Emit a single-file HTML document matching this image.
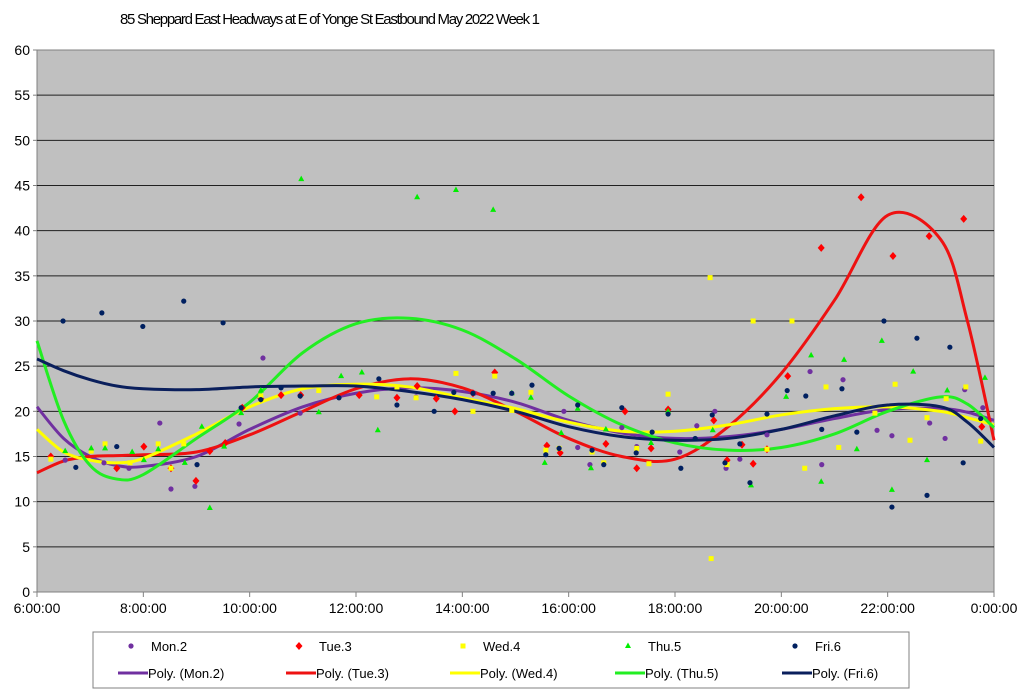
<!DOCTYPE html>
<html><head><meta charset="utf-8"><style>
body{margin:0;background:#fff;font-family:"Liberation Sans",sans-serif}
svg{display:block}
</style></head><body>
<svg id="chart" width="1024" height="695" xmlns="http://www.w3.org/2000/svg">
<rect width="1024" height="695" fill="#fff"/>
<text x="120" y="24" font-size="15" textLength="420" font-family="Liberation Sans, sans-serif">85 Sheppard East Headways at E of Yonge St Eastbound May 2022  Week 1</text>
<rect x="37" y="50" width="957" height="542" fill="#c0c0c0" stroke="#808080"/>
<g id="grid"></g><g id="axes"></g><g id="trends"></g><g id="points"></g>
<g id="legend"></g>
</svg>
<script>
const yTicks=[0,5,10,15,20,25,30,35,40,45,50,55,60];
const xTickLabels=["6:00:00","8:00:00","10:00:00","12:00:00","14:00:00","16:00:00","18:00:00","20:00:00","22:00:00","0:00:00"];
const xTickHours=[6,8,10,12,14,16,18,20,22,24];
const seriesNames=["Mon.2","Tue.3","Wed.4","Thu.5","Fri.6"];
const colors=["#7030a0","#ff0000","#ffff00","#00ee00","#002060"];
const trendColors=["#7030a0","#ee1111","#ffff00","#22ee22","#0a1f5c"];
const monT=[6.53,7.26,7.73,8.31,8.52,8.97,9.80,10.25,10.95,13.13,14.22,15.91,16.17,16.40,17.00,17.28,18.09,18.41,18.75,18.96,19.22,19.73,20.54,20.76,21.16,21.80,22.08,22.79,23.08,23.45,23.79];
const monV=[14.6,14.3,13.7,18.7,11.4,11.7,18.6,25.9,19.8,21.6,22,20,16,14.1,18.2,16.1,15.5,18.4,20,13.7,14.7,17.4,24.4,14.1,23.5,17.9,17.3,18.7,17,22.4,20.4];
const tueT=[6.26,7.50,8.01,8.52,8.99,9.25,9.54,9.86,10.21,10.59,10.96,12.06,12.77,13.15,13.51,13.86,14.20,14.61,15.59,15.84,16.70,17.06,17.28,17.55,17.87,18.73,18.98,19.26,19.47,19.73,20.12,20.75,21.50,22.10,22.78,23.43,23.77];
const tueV=[15,13.7,16.1,13.7,12.3,15.6,16.5,20.4,21.4,21.8,21.8,21.8,21.5,22.8,21.4,20,22,24.3,16.2,15.4,16.4,20,13.7,15.9,20.2,19,14.6,16.3,14.2,15.8,23.9,38.1,43.7,37.2,39.4,41.3,18.3];
const wedT=[6.26,7.02,7.28,7.75,8.28,8.52,8.76,10.21,11.30,12.39,12.77,13.13,13.88,14.20,14.61,14.93,15.29,15.57,15.82,16.44,16.66,17.28,17.51,17.87,18.66,18.68,18.98,19.47,19.73,20.20,20.44,20.84,21.08,21.76,22.14,22.42,22.74,23.10,23.47,23.75];
const wedV=[14.7,15.6,16.4,14.3,16.4,13.7,16.4,21.7,22.3,21.6,22.7,21.5,24.2,20,23.9,20.1,22.1,15.7,15.9,15.5,14.3,15.9,14.2,21.9,34.8,3.7,14.1,30,15.8,30,13.7,22.7,16,19.8,23,16.8,19.3,21.4,22.7,16.7];
const thuT=[6.53,7.02,7.28,7.79,8.01,8.28,8.78,9.10,9.25,9.52,9.84,10.21,10.97,11.30,11.72,12.11,12.41,13.15,13.88,14.58,14.93,15.29,15.55,15.86,16.17,16.42,16.70,17.55,17.87,18.71,19.43,20.09,20.56,20.75,21.18,21.42,21.89,22.08,22.48,22.74,23.12,23.83];
const thuV=[15.6,15.9,15.9,15.5,14.6,15.8,14.3,18.3,9.3,16.1,19.8,22.3,45.7,19.9,23.9,24.3,17.9,43.7,44.5,42.3,22,21.5,14.3,17.6,20.3,13.7,18,16.5,20,17.9,11.8,21.6,26.2,12.2,25.7,15.8,27.8,11.3,24.4,14.6,22.3,23.7];
const friT=[6.49,6.73,7.22,7.50,7.99,8.76,9.01,9.50,9.84,10.21,10.59,10.95,11.68,12.43,12.77,13.47,13.84,14.20,14.58,14.93,15.31,15.57,15.82,16.17,16.44,16.66,17.00,17.27,17.57,17.87,18.11,18.38,18.70,18.94,19.22,19.41,19.73,20.11,20.46,20.76,21.14,21.42,21.93,22.08,22.55,22.74,23.17,23.42,23.75];
const friV=[30,13.8,30.9,16.1,29.4,32.2,14.1,29.8,20.4,21.3,22.6,21.7,21.5,23.6,20.7,20,22.1,22,22,22,22.9,15.2,15.9,20.7,15.7,14.1,20.4,15.4,17.7,19.7,13.7,17,19.6,14.3,16.4,12.1,19.7,22.3,21.7,18,22.5,17.7,30,9.4,28.1,10.7,27.1,14.3,19.2];
const trendHours=[6,6.5,7,7.5,8,9,10,11,12,13,14,15,16,17,18,19,20,21,22,23,23.5,24];
const monTrend=[20.5,17,15,14,13.9,15,18,20.5,22,22.6,22.2,21,19,17.6,17,17.2,18,19.2,20.2,20.3,19.9,19];
const tueTrend=[13.2,14.5,15,15.1,15.2,15.5,17.4,20,22.5,23.6,22.6,20,17,15,14.7,18.3,24.2,32.3,41.7,39,30,16.8];
const wedTrend=[18,15.5,14.6,14.3,14.8,17.5,20.5,22.5,23,22.7,21.5,20.3,18.8,17.8,17.8,18.5,19.6,20.3,20.5,20,19.3,18.5];
const thuTrend=[27.8,19,14,12.5,13,17,21,26.5,29.7,30.3,29,25.8,21.7,18.5,16.5,15.7,16,17.5,20,21.6,20.8,18.2];
const friTrend=[25.8,24.5,23.5,22.8,22.5,22.4,22.7,22.8,22.8,22.2,21.3,20,18.3,17.2,16.8,17,18,19.5,20.7,20.5,18.8,16];

const NS="http://www.w3.org/2000/svg";
const X0=37,X1=994,Y0=592,Y1=50;
const xs=h=>X0+(h-6)/18*(X1-X0);
const ys=v=>Y0-v/60*(Y0-Y1);
function mk(tag,parent,attrs){const e=document.createElementNS(NS,tag);for(const k in attrs)e.setAttribute(k,attrs[k]);parent.appendChild(e);return e;}
const grid=document.getElementById('grid'),axes=document.getElementById('axes');
yTicks.forEach(t=>{
  const y=ys(t);
  if(t>0&&t<60){const l=mk('line',grid,{x1:X0,x2:X1,y1:y,y2:y,stroke:'#202020','stroke-width':1});
  
  }
  const tk=mk('line',axes,{x1:X0-4,x2:X0,y1:y,y2:y,stroke:'#808080'});
  
  
  const tx=mk('text',axes,{x:X0-7,y:y+5,'font-size':14,'text-anchor':'end',fill:'#000'});
  tx.textContent=t;
  
  
});
xTickHours.forEach((h,i)=>{
  const x=xs(h);
  const tk=mk('line',axes,{x1:x,x2:x,y1:Y0,y2:Y0+5,stroke:'#808080'});
  
  
  const tx=mk('text',axes,{x:x,y:Y0+21,'font-size':14,'text-anchor':'middle',fill:'#000'});
  tx.textContent=xTickLabels[i];
  
  
});
function smoothPath(px,py){
  let d='M'+px[0]+','+py[0];
  for(let i=0;i<px.length-1;i++){
    const x0=px[Math.max(i-1,0)],y0=py[Math.max(i-1,0)],x1=px[i],y1=py[i],x2=px[i+1],y2=py[i+1],x3=px[Math.min(i+2,px.length-1)],y3=py[Math.min(i+2,px.length-1)];
    d+=' C'+(x1+(x2-x0)/6)+','+(y1+(y2-y0)/6)+' '+(x2-(x3-x1)/6)+','+(y2-(y3-y1)/6)+' '+x2+','+y2;
  }
  return d;
}
const trends=[monTrend,tueTrend,wedTrend,thuTrend,friTrend];
const tg=document.getElementById('trends');
trends.forEach((tr,i)=>{
  const p=mk('path',tg,{d:smoothPath(trendHours.map(xs),tr.map(ys)),fill:'none',stroke:trendColors[i],'stroke-width':3});
  
  
});
function marker(parent,kind,x,y,c){
  let e;
  if(kind===0||kind===4)e=mk('circle',parent,{cx:x,cy:y,r:2.6,fill:c});
  else if(kind===1)e=mk('polygon',parent,{points:`${x},${y-4} ${x+3.5},${y} ${x},${y+4} ${x-3.5},${y}`,fill:c});
  else if(kind===2)e=mk('rect',parent,{x:x-2.5,y:y-2.5,width:5,height:5,fill:c});
  else e=mk('polygon',parent,{points:`${x},${y-3.5} ${x+3},${y+2} ${x-3},${y+2}`,fill:c});
  return e;
}
const pts=[[monT,monV],[tueT,tueV],[wedT,wedV],[thuT,thuV],[friT,friV]];
const pg=document.getElementById('points');
pts.forEach((s,i)=>{
  s[0].forEach((t,j)=>{
    const e=marker(pg,i,xs(t),ys(s[1][j]),colors[i]);
    
    
  });
});
const lg=document.getElementById('legend');
const box=mk('rect',lg,{x:93,y:632,width:816,height:56,fill:'#fff',stroke:'#808080'});


const colX=[148,316,480,645,812];
seriesNames.forEach((n,i)=>{
  const m=marker(lg,i,colX[i]-17,646,colors[i]);
  
  
  const t1=mk('text',lg,{x:colX[i]+3,y:651,'font-size':13});
  t1.textContent=n;
  
  
  const l=mk('line',lg,{x1:colX[i]-30,x2:colX[i],y1:673,y2:673,stroke:trendColors[i],'stroke-width':3});
  
  
  const t2=mk('text',lg,{x:colX[i],y:678,'font-size':13});
  t2.textContent='Poly. ('+n+')';
  
  
});
</script>
</body></html>
